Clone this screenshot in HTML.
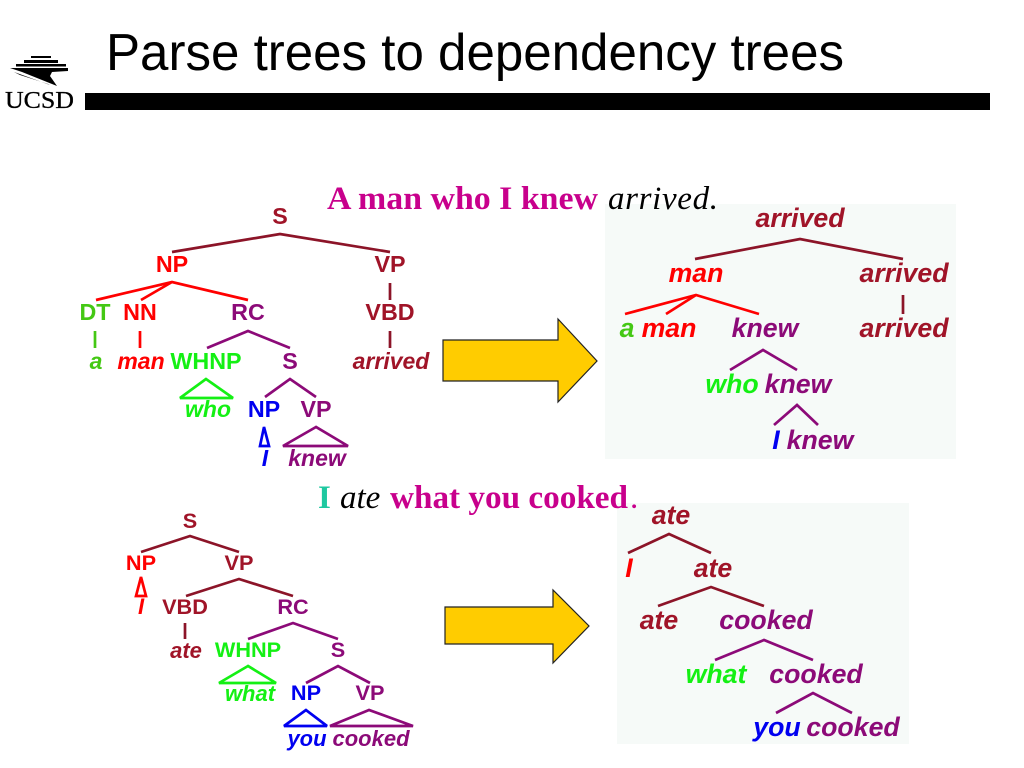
<!DOCTYPE html>
<html>
<head>
<meta charset="utf-8">
<title>Parse trees to dependency trees</title>
<style>
html,body{margin:0;padding:0;background:#fff;width:1024px;height:768px;overflow:hidden}
svg{display:block}
text{font-family:"Liberation Sans",sans-serif}
.l{font-weight:bold;text-anchor:middle;font-size:23.3px}
.i{font-weight:bold;font-style:italic;text-anchor:middle;font-size:23px}
.l2{font-weight:bold;text-anchor:middle;font-size:21.7px}
.i2{font-weight:bold;font-style:italic;text-anchor:middle;font-size:22px}
.r{font-weight:bold;font-style:italic;text-anchor:middle;font-size:26.7px}
.s{font-family:"Liberation Serif",serif;font-size:33px}
.ln{fill:none;stroke-width:2.7;stroke-linejoin:miter;stroke-miterlimit:3}
.dr{fill:#a01428}.re{fill:#ff0000}.gr{fill:#44c814}.li{fill:#14f014}.pu{fill:#8c0a78}.bl{fill:#0000f0}
.Ldr{stroke:#8c1428}.Lre{stroke:#ff0000}.Lgr{stroke:#44c814}.Lli{stroke:#14f014}.Lpu{stroke:#8c0a78}.Lbl{stroke:#0000f0}
</style>
</head>
<body>
<svg width="1024" height="768" viewBox="0 0 1024 768" xmlns="http://www.w3.org/2000/svg">
<rect width="1024" height="768" fill="#fff"/>

<!-- Header -->
<text x="106" y="70" font-size="52" fill="#000" textLength="738" lengthAdjust="spacingAndGlyphs">Parse trees to dependency trees</text>
<rect x="85" y="93" width="905" height="17" fill="#000"/>
<g fill="#000">
<rect x="31" y="56" width="20" height="2"/>
<rect x="24" y="60" width="34" height="3"/>
<rect x="16" y="64" width="50" height="2.5"/>
<polygon points="10,68 68,68 68,71 52,72 50,76 57,86 22,72"/>
<polygon points="14,72 50,85 48,84 20,75"/>
</g>
<text x="5" y="108" style="font-family:'Liberation Serif',serif" font-size="24" fill="#000" stroke="#000" stroke-width="0.3" textLength="69" lengthAdjust="spacingAndGlyphs">UCSD</text>

<!-- Panels -->
<rect x="605" y="204" width="351" height="255" fill="#f6faf8"/>
<rect x="617" y="503" width="292" height="241" fill="#f6faf8"/>

<!-- Sentences -->
<text class="s" x="327" y="209" font-weight="bold" fill="#c8008c" textLength="271" lengthAdjust="spacingAndGlyphs">A man who I knew</text>
<text class="s" x="608" y="209" font-style="italic" fill="#000" textLength="110" lengthAdjust="spacing">arrived.</text>
<text class="s" x="318" y="508" font-weight="bold" fill="#1ec8a0">I</text>
<text class="s" x="340" y="508" font-style="italic" fill="#000">ate</text>
<text class="s" x="390" y="508" font-weight="bold" fill="#c8008c" textLength="238" lengthAdjust="spacingAndGlyphs">what you cooked</text>
<text class="s" x="630" y="508" fill="#c8008c">.</text>

<!-- Arrows -->
<polygon points="443,340 558,340 558,319 597,361 558,402 558,381 443,381" fill="#ffcc00" stroke="#222" stroke-width="1.2"/>
<polygon points="445,607 553,607 553,590 589,626 553,663 553,644 445,644" fill="#ffcc00" stroke="#222" stroke-width="1.2"/>

<!-- Tree 1 lines -->
<polyline class="ln Ldr" points="172,252 280,234 390,252"/>
<polyline class="ln Lre" points="96,300 172,282 248,300"/>
<polyline class="ln Lre" points="141,300 172,282"/>
<line class="ln Ldr" x1="390" y1="283" x2="390" y2="300"/>
<line class="ln Lgr" x1="95" y1="331" x2="95" y2="348"/>
<line class="ln Lre" x1="140" y1="331" x2="140" y2="348"/>
<line class="ln Ldr" x1="390" y1="331" x2="390" y2="348"/>
<polyline class="ln Lpu" points="207,348 248,331 290,348"/>
<polyline class="ln Lpu" points="265,397 290,379 316,397"/>
<polygon class="ln Lli" points="206,379 180,398 233,398"/>
<polygon class="ln Lbl" points="264,427 260,446 269,446"/>
<polygon class="ln Lpu" points="316,427 283,446 348,446"/>

<!-- Tree 1 text -->
<text class="l dr" x="280" y="224">S</text>
<text class="l re" x="172" y="272">NP</text>
<text class="l dr" x="390" y="272">VP</text>
<text class="l gr" x="95" y="320">DT</text>
<text class="l re" x="140" y="320">NN</text>
<text class="l pu" x="248" y="320">RC</text>
<text class="l dr" x="390" y="320">VBD</text>
<text class="i gr" x="96" y="369">a</text>
<text class="i re" x="141" y="369">man</text>
<text class="l li" x="206" y="369">WHNP</text>
<text class="l pu" x="290" y="369">S</text>
<text class="i dr" x="391" y="369">arrived</text>
<text class="i li" x="208" y="417">who</text>
<text class="l bl" x="264" y="417">NP</text>
<text class="l pu" x="316" y="417">VP</text>
<text class="i bl" x="265" y="466">I</text>
<text class="i pu" x="317" y="466">knew</text>

<!-- Tree 2 lines -->
<polyline class="ln Ldr" points="695,259 800,239 903,259"/>
<polyline class="ln Lre" points="625,314 696,295 759,314"/>
<polyline class="ln Lre" points="666,314 696,295"/>
<line class="ln Ldr" x1="903" y1="295" x2="903" y2="314"/>
<polyline class="ln Lpu" points="730,370 763,350 797,370"/>
<polyline class="ln Lpu" points="774,425 797,405 818,425"/>

<!-- Tree 2 text -->
<text class="r dr" x="800" y="227">arrived</text>
<text class="r re" x="696" y="282">man</text>
<text class="r dr" x="904" y="282">arrived</text>
<text class="r gr" x="627" y="337">a</text>
<text class="r re" x="669" y="337">man</text>
<text class="r pu" x="765" y="337">knew</text>
<text class="r dr" x="904" y="337">arrived</text>
<text class="r li" x="732" y="393">who</text>
<text class="r pu" x="798" y="393">knew</text>
<text class="r bl" x="776" y="449">I</text>
<text class="r pu" x="820" y="449">knew</text>

<!-- Tree 3 lines -->
<polyline class="ln Ldr" points="141,552 190,536 239,552"/>
<polygon class="ln Lre" points="141,577 136,596 146,596"/>
<polyline class="ln Ldr" points="186,596 239,579 293,596"/>
<line class="ln Ldr" x1="185" y1="623" x2="185" y2="639"/>
<polyline class="ln Lpu" points="248,639 293,623 338,639"/>
<polygon class="ln Lli" points="248,666 219,683 276,683"/>
<polyline class="ln Lpu" points="306,683 338,666 370,683"/>
<polygon class="ln Lbl" points="306,710 284,726 327,726"/>
<polygon class="ln Lpu" points="369,710 330,726 413,726"/>

<!-- Tree 3 text -->
<text class="l2 dr" x="190" y="528">S</text>
<text class="l2 re" x="141" y="570">NP</text>
<text class="l2 dr" x="239" y="570">VP</text>
<text class="i2 re" x="141" y="614">I</text>
<text class="l2 dr" x="185" y="614">VBD</text>
<text class="l2 pu" x="293" y="614">RC</text>
<text class="i2 dr" x="186" y="658">ate</text>
<text class="l2 li" x="248" y="657">WHNP</text>
<text class="l2 pu" x="338" y="657">S</text>
<text class="i2 li" x="250" y="701">what</text>
<text class="l2 bl" x="306" y="700">NP</text>
<text class="l2 pu" x="370" y="700">VP</text>
<text class="i2 bl" x="307" y="746">you</text>
<text class="i2 pu" x="371" y="746">cooked</text>

<!-- Tree 4 lines -->
<polyline class="ln Ldr" points="628,553 669,534 711,553"/>
<polyline class="ln Ldr" points="658,606 711,587 764,606"/>
<polyline class="ln Lpu" points="715,660 764,640 813,660"/>
<polyline class="ln Lpu" points="776,713 813,693 852,713"/>

<!-- Tree 4 text -->
<text class="r dr" x="671" y="524">ate</text>
<text class="r re" x="629" y="577">I</text>
<text class="r dr" x="713" y="577">ate</text>
<text class="r dr" x="659" y="629">ate</text>
<text class="r pu" x="766" y="629">cooked</text>
<text class="r li" x="716" y="683">what</text>
<text class="r pu" x="816" y="683">cooked</text>
<text class="r bl" x="777" y="736">you</text>
<text class="r pu" x="853" y="736">cooked</text>
</svg>
</body>
</html>
